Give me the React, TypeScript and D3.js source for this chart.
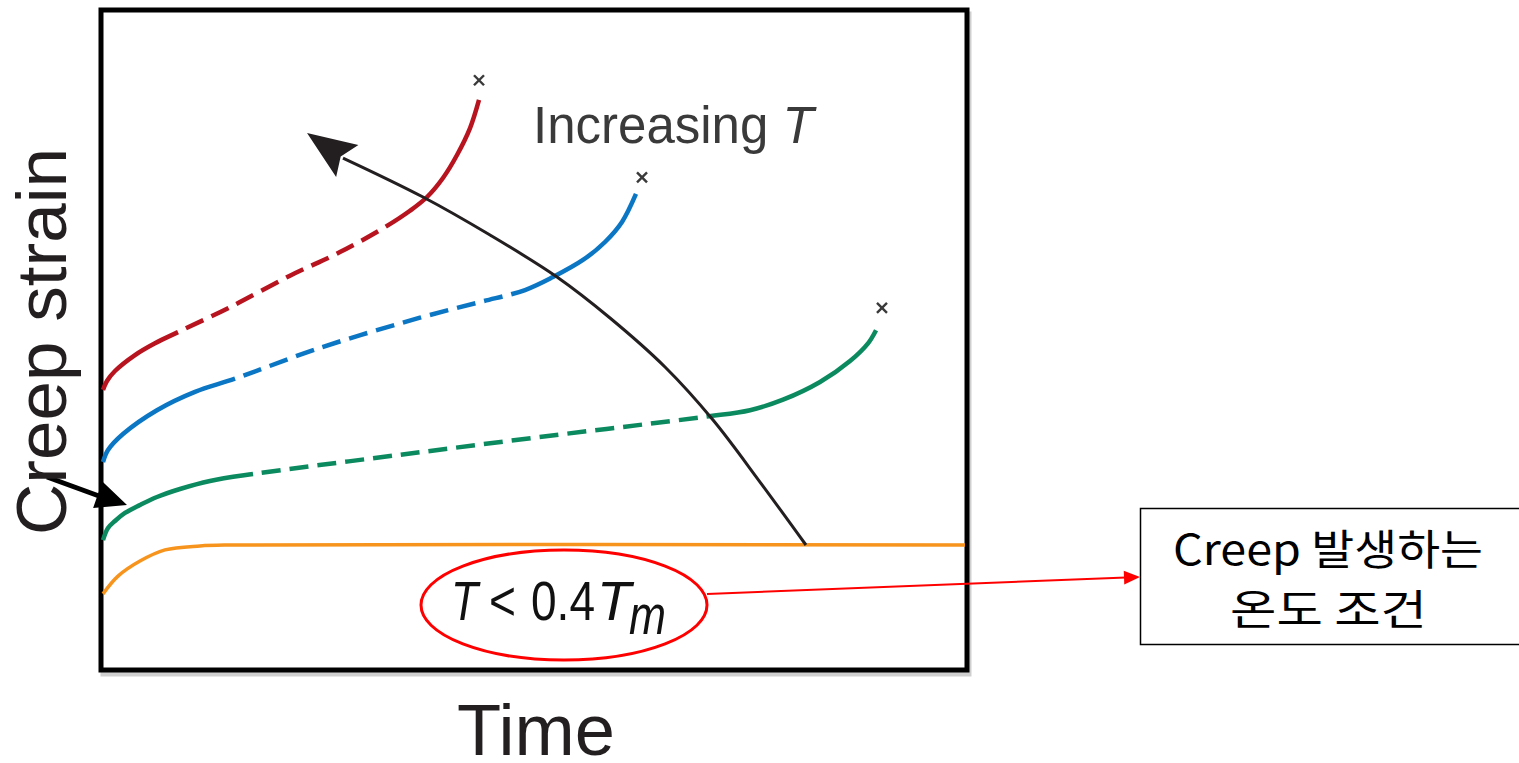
import React, { useLayoutEffect, useRef, useState } from "react";
import * as d3 from "d3";

type P = [number, number];

// time (0-100) vs creep strain (0-100)
const redPrimary: P[] = [[0, 42.4], [0.46, 43.75], [1.39, 45.27], [3.71, 47.7], [6.03, 49.5], [8.7, 51.2]];
const redSecondary: P[] = [[8.7, 51.2], [14.73, 55.0], [21.69, 59.8], [27.49, 63.4], [32.71, 67.2]];
const redTertiary: P[] = [[32.71, 67.2], [35.61, 69.7], [37.59, 71.8], [39.44, 74.7], [41.07, 78.2], [42.58, 82.3], [43.62, 86.6]];
const redRupture: P = [43.62, 89.6];

const bluePrimary: P[] = [[0, 31.4], [0.58, 33.23], [2.32, 35.67], [6.26, 39.3], [10.67, 42.1], [15.31, 44.1]];
const blueSecondary: P[] = [[15.31, 44.1], [25.17, 48.8], [36.77, 53.4], [43.74, 55.79], [48.96, 57.62]];
const blueTertiary: P[] = [[48.96, 57.62], [52.2, 59.6], [55.68, 62.2], [58.24, 64.94], [60.21, 67.99], [61.83, 72.26]];
const blueRupture: P = [62.53, 74.8];

const greenPrimary: P[] = [[0, 19.5], [0.58, 21.34], [1.39, 22.41], [2.55, 23.63], [4.29, 24.85], [6.26, 26.07], [8.93, 27.29], [12.41, 28.51], [17.4, 29.57]];
const greenSecondary: P[] = [[17.4, 29.57], [34.45, 32.5], [51.86, 35.4], [69.84, 38.3]];
const greenTertiary: P[] = [[69.84, 38.3], [75.06, 39.3], [78.89, 40.9], [83.18, 43.6], [86.66, 46.8], [88.75, 49.5], [89.68, 51.5]];
const greenRupture: P = [90.37, 54.9];

const orangeCurve: P[] = [[0, 11.3], [1.74, 14.0], [4.29, 16.3], [7.19, 18.0], [11.25, 18.6], [14.73, 18.75], [100, 18.75]];

const increasingTArrow: P[] = [[81.55, 18.75], [76.22, 28.35], [70.77, 37.8], [65.2, 45.88], [58.82, 53.35], [52.67, 59.6], [44.9, 66.0], [37.12, 71.8], [27.84, 77.74]];
const increasingTTip: P = [23.67, 81.55];

const xScale = d3.scaleLinear().domain([0, 100]).range([103, 965]);
const yScale = d3.scaleLinear().domain([0, 100]).range([668, 12]);

const lineGen = d3
  .line<P>()
  .x((d) => xScale(d[0]))
  .y((d) => yScale(d[1]))
  .curve(d3.curveCatmullRom.alpha(0.5));

const series = [
  { color: "#b8141f", primary: redPrimary, secondary: redSecondary, tertiary: redTertiary, rupture: redRupture },
  { color: "#0b76c4", primary: bluePrimary, secondary: blueSecondary, tertiary: blueTertiary, rupture: blueRupture },
  { color: "#0b8a60", primary: greenPrimary, secondary: greenSecondary, tertiary: greenTertiary, rupture: greenRupture },
].map((s) => ({
  ...s,
  full: [...s.primary, ...s.secondary.slice(1), ...s.tertiary.slice(1)] as P[],
  breakA: s.secondary[0][0],
  breakB: s.tertiary[0][0],
}));

function arrowHead(tip: P, from: P, len: number, halfW: number, notch: number): string {
  const dx = tip[0] - from[0];
  const dy = tip[1] - from[1];
  const l = Math.hypot(dx, dy);
  const ux = dx / l, uy = dy / l;
  const nx = -uy, ny = ux;
  const bx = tip[0] - ux * len, by = tip[1] - uy * len;
  const pts: P[] = [
    tip,
    [bx + nx * halfW, by + ny * halfW],
    [tip[0] - ux * (len - notch), tip[1] - uy * (len - notch)],
    [bx - nx * halfW, by - ny * halfW],
  ];
  return pts.map((p) => p.join(",")).join(" ");
}

function lengthAtX(path: SVGPathElement, xTarget: number): number {
  const total = path.getTotalLength();
  let lo = 0, hi = total;
  for (let i = 0; i < 40; i++) {
    const mid = (lo + hi) / 2;
    if (path.getPointAtLength(mid).x < xTarget) lo = mid;
    else hi = mid;
  }
  return (lo + hi) / 2;
}

export default function App() {
  const pathRefs = useRef<(SVGPathElement | null)[]>([]);
  const [dashes, setDashes] = useState<string[]>(series.map(() => ""));

  useLayoutEffect(() => {
    const result = series.map((s, i) => {
      const p = pathRefs.current[i];
      if (!p) return "";
      const total = p.getTotalLength();
      const L1 = lengthAtX(p, xScale(s.breakA));
      const L2 = lengthAtX(p, xScale(s.breakB));
      const arr: number[] = [L1, 9];
      let pos = L1 + 9;
      while (pos + 19 < L2) {
        arr.push(19, 9);
        pos += 28;
      }
      arr.push(total - pos + 20, 0);
      return arr.map((v) => v.toFixed(2)).join(",");
    });
    setDashes(result);
  }, []);

  const last = increasingTArrow[increasingTArrow.length - 1];
  const tipPx: P = [xScale(increasingTTip[0]), yScale(increasingTTip[1])];
  const lastPx: P = [xScale(last[0]), yScale(last[1])];

  const smallArrowFrom: P = [47, 477];
  const smallArrowTip: P = [127, 505];
  const redFrom: P = [707, 594];
  const redTip: P = [1140, 577];

  const sans = "'Liberation Sans', Arial, sans-serif";
  const narrow = "'Liberation Sans Narrow', 'Liberation Sans', Arial, sans-serif";

  return (
    <svg
      width={1519}
      height={763}
      style={{ position: "fixed", left: 0, top: 0, display: "block", background: "#fff" }}
    >
      {/* frame shadow + frame */}
      <rect x={103} y={14} width={866} height={660} fill="none" stroke="#cfcfcf" strokeWidth={5} />
      <rect x={101} y={10} width={866} height={660} fill="#fff" stroke="#000" strokeWidth={5} />

      {/* orange curve */}
      <path d={lineGen(orangeCurve) || ""} fill="none" stroke="#f7941d" strokeWidth={3.5} />

      {/* creep curves */}
      {series.map((s, i) => (
        <g key={i}>
          <path
            ref={(el) => {
              pathRefs.current[i] = el;
            }}
            d={lineGen(s.full) || ""}
            fill="none"
            stroke={s.color}
            strokeWidth={4.5}
            strokeDasharray={dashes[i] || undefined}
          />
          <g stroke="#3a3a3a" strokeWidth={2.4}>
            <line x1={xScale(s.rupture[0]) - 5} y1={yScale(s.rupture[1]) - 5} x2={xScale(s.rupture[0]) + 5} y2={yScale(s.rupture[1]) + 5} />
            <line x1={xScale(s.rupture[0]) - 5} y1={yScale(s.rupture[1]) + 5} x2={xScale(s.rupture[0]) + 5} y2={yScale(s.rupture[1]) - 5} />
          </g>
        </g>
      ))}

      {/* increasing T arrow */}
      <path d={lineGen(increasingTArrow) || ""} fill="none" stroke="#231f20" strokeWidth={3} />
      <polygon points={arrowHead(tipPx, lastPx, 49, 19.5, 8)} fill="#231f20" />

      <text x={533} y={143} fontFamily={sans} fontSize={51} fill="#3a3a3a">
        Increasing <tspan fontStyle="italic">T</tspan>
      </text>

      {/* T < 0.4Tm with ellipse */}
      <g fontFamily={narrow} fill="#111" fontSize={56}>
        <text x={451} y={620} fontStyle="italic" textLength={27} lengthAdjust="spacingAndGlyphs">T</text>
        <text x={489} y={620} textLength={27} lengthAdjust="spacingAndGlyphs">&lt;</text>
        <text x={531} y={620} textLength={64} lengthAdjust="spacingAndGlyphs">0.4</text>
        <text x={597} y={620} fontStyle="italic" textLength={34} lengthAdjust="spacingAndGlyphs">T</text>
        <text x={629} y={634} fontStyle="italic" textLength={37} lengthAdjust="spacingAndGlyphs">m</text>
      </g>
      <ellipse cx={564} cy={605} rx={143} ry={55} fill="none" stroke="#ff0000" strokeWidth={3} />

      {/* red connector */}
      <line x1={redFrom[0]} y1={redFrom[1]} x2={redTip[0] - 14} y2={redTip[1] + 0.5} stroke="#ff0000" strokeWidth={2} />
      <polygon points={arrowHead(redTip, redFrom, 16, 7, 0)} fill="#ff0000" />

      {/* Korean annotation box */}
      <rect x={1140.5} y={508.5} width={400} height={136} fill="#fff" stroke="#000" strokeWidth={1.5} />
      <g fontFamily="'Noto Sans CJK KR', 'Noto Sans', sans-serif" fontSize={42} fill="#000" textAnchor="middle">
        <text x={1328} y={565} textLength={310} lengthAdjust="spacingAndGlyphs">Creep 발생하는</text>
        <text x={1328.5} y={625} textLength={197} lengthAdjust="spacingAndGlyphs">온도 조건</text>
      </g>

      {/* small black arrow on the left */}
      <line
        x1={smallArrowFrom[0]}
        y1={smallArrowFrom[1]}
        x2={smallArrowTip[0] - 28}
        y2={smallArrowTip[1] - 9}
        stroke="#000"
        strokeWidth={5}
      />
      <polygon points={arrowHead(smallArrowTip, smallArrowFrom, 31, 14, 0)} fill="#000" />

      {/* axis labels */}
      <text
        transform="translate(66,341.5) rotate(-90)"
        textAnchor="middle"
        fontFamily={sans}
        fontSize={70}
        fill="#231f20"
        textLength={387}
        lengthAdjust="spacingAndGlyphs"
      >
        Creep strain
      </text>
      <text x={536} y={755} textAnchor="middle" fontFamily={sans} fontSize={72} fill="#231f20" textLength={158} lengthAdjust="spacingAndGlyphs">
        Time
      </text>
    </svg>
  );
}
